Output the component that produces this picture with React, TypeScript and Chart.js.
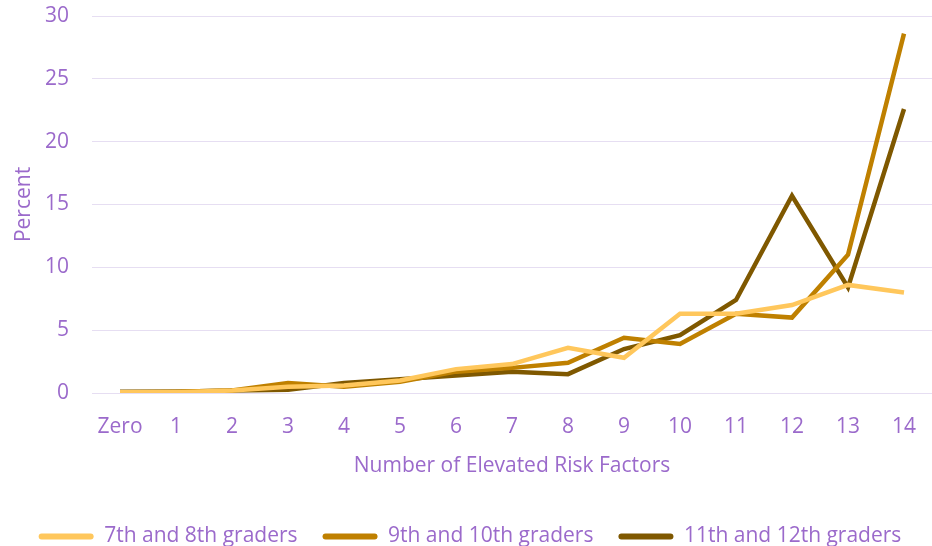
import React, { useEffect, useRef } from "react";
import { Chart, registerables } from "chart.js";

Chart.register(...registerables);

const categories = ["Zero", "1", "2", "3", "4", "5", "6", "7", "8", "9", "10", "11", "12", "13", "14"];
const grade78 = [0.05, 0.05, 0.2, 0.5, 0.6, 1.0, 1.9, 2.3, 3.6, 2.8, 6.3, 6.3, 7.0, 8.6, 8.0];
const grade910 = [0.05, 0.1, 0.2, 0.8, 0.5, 0.9, 1.7, 2.0, 2.4, 4.4, 3.9, 6.3, 6.0, 11.0, 28.6];
const grade1112 = [0.1, 0.1, 0.2, 0.25, 0.8, 1.1, 1.4, 1.7, 1.5, 3.5, 4.6, 7.4, 15.7, 8.4, 22.6];
const seriesNames = ["7th and 8th graders", "9th and 10th graders", "11th and 12th graders"];
const yTicks = [0, 5, 10, 15, 20, 25, 30];

const COLORS = ["#ffc75c", "#bf8000", "#7f5800"];
const PURPLE = "#9b6acb";
const FONT = "'Open Sans', sans-serif";

export default function App() {
  const ref = useRef<HTMLCanvasElement | null>(null);

  useEffect(() => {
    if (!ref.current) return;
    const all = [grade78, grade910, grade1112];
    const chart = new Chart(ref.current, {
      type: "line",
      data: {
        labels: categories,
        datasets: all.map((d, i) => ({
          label: seriesNames[i],
          data: d,
          borderColor: COLORS[i],
          backgroundColor: COLORS[i],
          borderWidth: 4.5,
          pointRadius: 0,
          tension: 0,
          borderJoinStyle: "miter" as const,
        })),
      },
      options: {
        animation: false,
        responsive: false,
        layout: { padding: { top: 16, right: -8, left: 0, bottom: -11 } },
        plugins: {
          tooltip: { enabled: false },
          legend: {
            position: "bottom",
            labels: {
              boxWidth: 55,
              boxHeight: 6,
              useBorderRadius: true,
              borderRadius: 3,
              padding: 25,
              color: PURPLE,
              font: { family: FONT, size: 21 },
              generateLabels: (c: any) =>
                c.data.datasets.map((ds: any, i: number) => ({
                  text: ds.label,
                  fillStyle: ds.borderColor,
                  strokeStyle: ds.borderColor,
                  lineWidth: 0,
                  fontColor: PURPLE,
                  datasetIndex: i,
                  hidden: false,
                  borderRadius: 3,
                })),
            },
          },
        },
        scales: {
          x: {
            offset: true,
            grid: { display: false, drawTicks: false },
            border: { display: false },
            ticks: { color: PURPLE, font: { family: FONT, size: 21, lineHeight: 1 }, padding: 24, maxRotation: 0, autoSkip: false },
            afterFit: (s: any) => {
              s.paddingLeft = 0;
              s.paddingRight = 0;
            },
            title: {
              display: true,
              text: "Number of Elevated Risk Factors",
              color: PURPLE,
              font: { family: FONT, size: 21, lineHeight: 1 },
              padding: { top: -6, bottom: 24 },
            },
          },
          y: {
            min: 0,
            max: 30,
            afterBuildTicks: (s: any) => {
              s.ticks = yTicks.map((v) => ({ value: v }));
            },
            afterFit: (s: any) => {
              s.width = 92;
              s.paddingTop = 0;
              s.paddingBottom = 0;
            },
            grid: { color: "#e6def2", lineWidth: 1, drawTicks: false },
            border: { display: false },
            ticks: { color: PURPLE, font: { family: FONT, size: 21 }, padding: 23 },
            title: {
              display: true,
              text: "Percent",
              color: PURPLE,
              font: { family: FONT, size: 21 },
              padding: { top: 11, bottom: 0 },
            },
          },
        },
      },
    });
    return () => chart.destroy();
  }, []);

  return (
    <div style={{ position: "absolute", left: 0, top: 0, width: 932, height: 546, background: "#fff" }}>
      <canvas ref={ref} width={932} height={546} />
    </div>
  );
}
